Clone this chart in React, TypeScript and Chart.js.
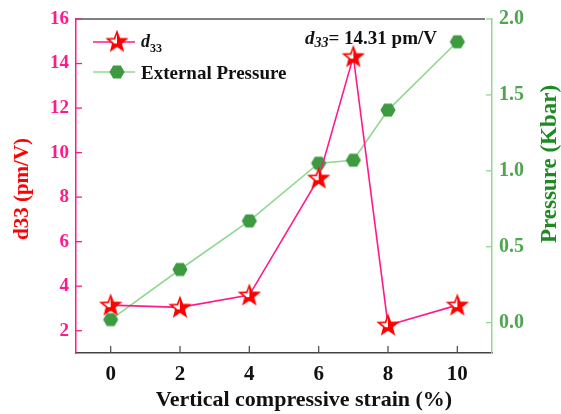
import React, { useEffect, useRef } from "react";
import { Chart, registerables } from "chart.js";
Chart.register(...registerables);

const strain = [0, 2, 4, 6, 7, 8, 10];
const d33Values = [3.15, 3.05, 3.6, 8.85, 14.31, 2.25, 3.15];
const pressureValues = [0.02, 0.35, 0.67, 1.05, 1.07, 1.4, 1.85];
const xTickValues = [0, 2, 4, 6, 8, 10];
const leftTickValues = [2, 4, 6, 8, 10, 12, 14, 16];
const rightTickValues = [0, 0.5, 1.0, 1.5, 2.0];

const PINK = "#ff1a8c";
const RED = "#ff0000";
const LGREEN = "#90d890";
const DGREEN = "#3d9a40";
const TGREEN = "#4ea64e";
const SERIF = "'Liberation Serif', 'Times New Roman', serif";

function makeStar(): HTMLCanvasElement {
  const c = document.createElement("canvas");
  c.width = 24; c.height = 24;
  const g = c.getContext("2d")!;
  const path = () => {
    g.beginPath();
    for (let i = 0; i < 10; i++) {
      const r = i % 2 === 0 ? 10 : 4.2;
      const a = -Math.PI / 2 + (i * Math.PI) / 5;
      const px = 12 + r * Math.cos(a), py = 12.5 + r * Math.sin(a);
      if (i === 0) g.moveTo(px, py); else g.lineTo(px, py);
    }
    g.closePath();
  };
  path();
  g.fillStyle = "#ffffff"; g.fill();
  g.save(); path(); g.clip();
  g.fillStyle = RED; g.fillRect(12, 0, 12, 24);
  g.fillRect(0, 14, 24, 10);
  g.restore();
  path();
  g.strokeStyle = RED; g.lineWidth = 1.6; g.stroke();
  return c;
}

function makeHex(): HTMLCanvasElement {
  const c = document.createElement("canvas");
  c.width = 18; c.height = 18;
  const g = c.getContext("2d")!;
  g.beginPath();
  for (let i = 0; i < 6; i++) {
    const a = (i * Math.PI) / 3;
    const px = 9 + 7.6 * Math.cos(a), py = 9 + 7.6 * Math.sin(a);
    if (i === 0) g.moveTo(px, py); else g.lineTo(px, py);
  }
  g.closePath();
  g.fillStyle = DGREEN; g.fill();
  return c;
}

export default function App() {
  const ref = useRef<HTMLCanvasElement>(null);
  useEffect(() => {
    document.body.style.margin = "0";
    const star = makeStar();
    const hex = makeHex();

    const decor = {
      id: "decor",
      afterDraw(chart: any) {
        const ctx = chart.ctx as CanvasRenderingContext2D;
        const a = chart.chartArea;
        const xs = chart.scales.x, yl = chart.scales.y, yr = chart.scales.y1;
        ctx.save();
        // top border
        ctx.strokeStyle = "#555555"; ctx.lineWidth = 1.5;
        ctx.beginPath(); ctx.moveTo(a.left, a.top); ctx.lineTo(a.right - 7, a.top); ctx.stroke();
        // inward ticks
        ctx.lineWidth = 1.3;
        ctx.strokeStyle = "#555555";
        xTickValues.forEach((v) => {
          const px = xs.getPixelForValue(v);
          ctx.beginPath(); ctx.moveTo(px, a.bottom); ctx.lineTo(px, a.bottom - 7); ctx.stroke();
        });
        ctx.strokeStyle = PINK;
        leftTickValues.forEach((v) => {
          const py = yl.getPixelForValue(v);
          ctx.beginPath(); ctx.moveTo(a.left, py); ctx.lineTo(a.left + 6, py); ctx.stroke();
        });
        ctx.strokeStyle = LGREEN;
        rightTickValues.forEach((v) => {
          const py = yr.getPixelForValue(v);
          ctx.beginPath(); ctx.moveTo(a.right, py); ctx.lineTo(a.right - 6, py); ctx.stroke();
        });

        // axis titles
        ctx.textAlign = "center"; ctx.textBaseline = "middle";
        ctx.font = `bold 22px ${SERIF}`;
        ctx.fillStyle = "#111111";
        ctx.fillText("Vertical compressive strain (%)", 304, 400);

        ctx.save();
        ctx.translate(23, 189); ctx.rotate(-Math.PI / 2);
        ctx.fillStyle = RED;
        ctx.font = `bold 21px ${SERIF}`;
        ctx.fillText("d33 (pm/V)", 0, 0);
        ctx.restore();

        ctx.save();
        ctx.translate(550, 164); ctx.rotate(-Math.PI / 2);
        ctx.fillStyle = "#1f8a22";
        ctx.font = `bold 23px ${SERIF}`;
        ctx.fillText("Pressure (Kbar)", 0, 0);
        ctx.restore();

        // legend
        ctx.lineWidth = 1.5;
        ctx.strokeStyle = PINK;
        ctx.beginPath(); ctx.moveTo(93, 42); ctx.lineTo(135, 42); ctx.stroke();
        ctx.drawImage(star, 117 - 12, 42 - 12.5);
        ctx.strokeStyle = LGREEN;
        ctx.beginPath(); ctx.moveTo(93, 72); ctx.lineTo(135, 72); ctx.stroke();
        ctx.drawImage(hex, 117 - 9, 72 - 9);

        ctx.textAlign = "left"; ctx.textBaseline = "alphabetic";
        ctx.fillStyle = "#111111";
        ctx.font = `bold italic 18px ${SERIF}`;
        ctx.fillText("d", 141, 47);
        ctx.font = `bold 12px ${SERIF}`;
        ctx.fillText("33", 150, 52);
        ctx.font = `bold 19px ${SERIF}`;
        ctx.fillText("External Pressure", 141, 79);

        // annotation
        ctx.font = `bold italic 19px ${SERIF}`;
        ctx.fillText("d", 305, 44);
        let w = ctx.measureText("d").width;
        ctx.font = `bold italic 14px ${SERIF}`;
        ctx.fillText("33", 305 + w, 47);
        w += ctx.measureText("33").width;
        ctx.font = `bold 19px ${SERIF}`;
        ctx.fillText("= 14.31 pm/V", 305 + w, 44);
        ctx.restore();
      },
    };

    const chart = new Chart(ref.current!, {
      type: "line",
      data: {
        datasets: [
          {
            label: "d33",
            data: strain.map((x, i) => ({ x, y: d33Values[i] })),
            borderColor: PINK,
            borderWidth: 1.6,
            pointStyle: star as any,
            pointRadius: 10,
            yAxisID: "y",
            order: 1,
          },
          {
            label: "External Pressure",
            data: strain.map((x, i) => ({ x, y: pressureValues[i] })),
            borderColor: LGREEN,
            borderWidth: 1.6,
            pointStyle: hex as any,
            pointRadius: 8,
            yAxisID: "y1",
            order: 2,
          },
        ],
      },
      plugins: [decor],
      options: {
        responsive: false,
        animation: false,
        layout: { padding: { top: 19, left: 0, right: 0, bottom: 0 } },
        plugins: { legend: { display: false }, tooltip: { enabled: false } },
        scales: {
          x: {
            type: "linear",
            min: -1,
            max: 11,
            afterBuildTicks: (s: any) => { s.ticks = xTickValues.map((v) => ({ value: v })); },
            afterFit: (s: any) => { s.height = 61; },
            grid: { drawOnChartArea: false, drawTicks: false },
            border: { color: "#444444", width: 1.5 },
            ticks: { color: "#111111", padding: 9, font: { family: SERIF, size: 21, weight: "bold" }, maxRotation: 0 },
          },
          y: {
            position: "left",
            min: 1,
            max: 16,
            afterBuildTicks: (s: any) => { s.ticks = leftTickValues.map((v) => ({ value: v })); },
            afterFit: (s: any) => { s.width = 76; },
            grid: { drawOnChartArea: false, drawTicks: false },
            border: { color: PINK, width: 1.5 },
            ticks: { color: PINK, padding: 7, font: { family: SERIF, size: 19, weight: "bold" } },
          },
          y1: {
            position: "right",
            min: -0.2,
            max: 2.0,
            afterBuildTicks: (s: any) => { s.ticks = rightTickValues.map((v) => ({ value: v })); },
            afterFit: (s: any) => { s.width = 69; },
            grid: { drawOnChartArea: false, drawTicks: false },
            border: { color: LGREEN, width: 1.5 },
            ticks: {
              color: TGREEN,
              padding: 7,
              font: { family: SERIF, size: 20, weight: "bold" },
              callback: (v: any) => Number(v).toFixed(1),
            },
          },
        },
      } as any,
    });
    return () => chart.destroy();
  }, []);
  return <canvas ref={ref} width={561} height={414} style={{ display: "block" }} />;
}
